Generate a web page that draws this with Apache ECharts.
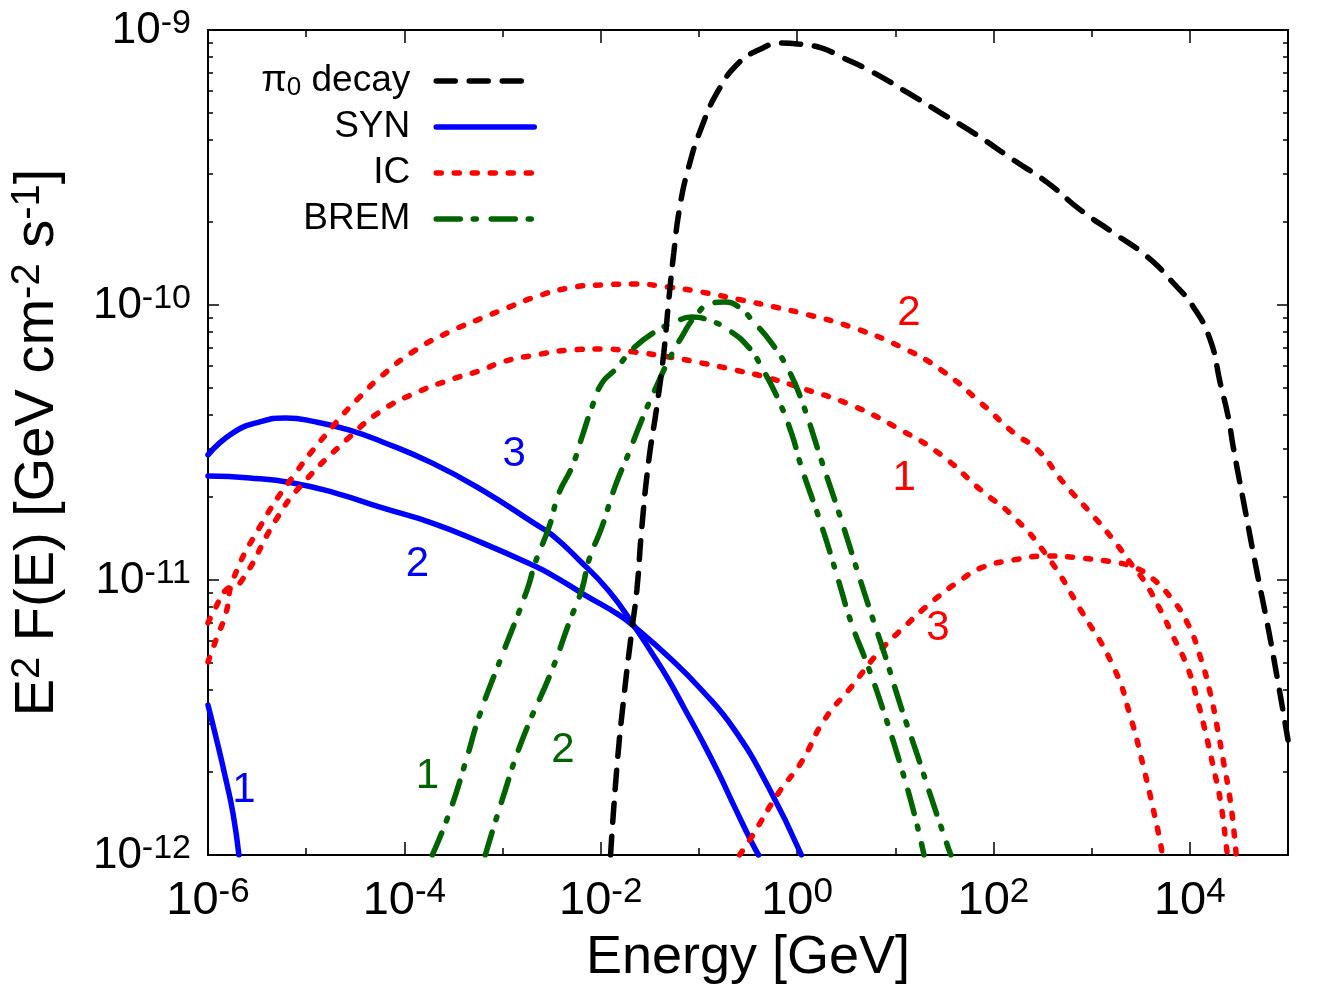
<!DOCTYPE html>
<html>
<head>
<meta charset="utf-8">
<script src="https://cdn.jsdelivr.net/npm/echarts@6/dist/echarts.min.js"></script>
<style>
  html, body { margin: 0; background: #fff; }
  #chart { width: 1334px; height: 1000px; }
</style>
</head>
<body>
<div id="chart"></div>
<script>
// every curve is a list of [log10 E (GeV), log10 E^2 F(E) (GeV cm^-2 s^-1)]
const pi0 = [[-1.9,-12],[-1.835,-11.68],[-1.764,-11.425],[-1.683,-11.182],[-1.632,-11.036],[-1.581,-10.807],
  [-1.51,-10.564],[-1.429,-10.371],[-1.358,-10.175],[-1.307,-9.982],[-1.256,-9.811],[-1.195,-9.644],[-1.104,-9.498],
  [-0.972,-9.353],[-0.799,-9.218],[-0.596,-9.12],[-0.393,-9.073],[-0.159,-9.047],[0.013,-9.051],[0.247,-9.065],
  [0.45,-9.098],[0.785,-9.156],[1.13,-9.229],[1.466,-9.302],[1.801,-9.375],[2.207,-9.473],[2.553,-9.556],
  [2.888,-9.655],[3.223,-9.738],[3.568,-9.825],[3.832,-9.92],[4.036,-10.007],[4.208,-10.127],[4.31,-10.284],
  [4.391,-10.407],[4.442,-10.516],[4.544,-10.709],[4.686,-10.975],[4.788,-11.156],[4.889,-11.353],[5.0,-11.582]];

const syn1 = [[-6,-11.455],[-5.919,-11.571],[-5.817,-11.727],[-5.746,-11.847],[-5.685,-12]];
const syn2 = [[-6,-10.622],[-5.573,-10.629],[-5.137,-10.647],[-4.7,-10.684],[-4.222,-10.738],[-3.715,-10.793],
  [-3.207,-10.865],[-2.699,-10.945],[-2.496,-10.982],[-2.16,-11.055],[-1.815,-11.127],[-1.653,-11.171],
  [-1.307,-11.28],[-0.972,-11.4],[-0.637,-11.545],[-0.292,-11.753],[0.044,-12]];
const syn3 = [[-6,-10.545],[-5.746,-10.465],[-5.472,-10.425],[-5.208,-10.411],[-4.903,-10.425],[-4.558,-10.455],
  [-4.222,-10.498],[-3.715,-10.575],[-3.207,-10.673],[-2.668,-10.796],[-2.496,-10.836],[-2.221,-10.927],
  [-1.917,-11.04],[-1.653,-11.171],[-1.48,-11.265],[-1.307,-11.364],[-1.145,-11.469],[-0.972,-11.582],
  [-0.8,-11.702],[-0.637,-11.825],[-0.464,-11.953],[-0.393,-12]];

const ic1 = [[-6,-11.156],[-5.919,-11.098],[-5.817,-11.036],[-5.675,-11.011],[-5.309,-10.782],[-5.066,-10.662],
  [-4.558,-10.48],[-4.222,-10.382],[-3.887,-10.32],[-3.542,-10.273],[-3.207,-10.236],[-3.004,-10.207],
  [-2.668,-10.182],[-2.323,-10.164],[-1.988,-10.16],[-1.653,-10.171],[-1.307,-10.189],[-0.972,-10.211],
  [-0.637,-10.236],[-0.292,-10.265],[0.044,-10.302],[0.552,-10.364],[1.059,-10.455],[1.466,-10.545],
  [1.872,-10.673],[2.207,-10.771],[2.553,-10.916],[2.888,-11.109],[3.223,-11.316],[3.396,-11.498],
  [3.528,-11.68],[3.629,-11.836],[3.7,-11.956],[3.72,-12]];
const ic2 = [[-6,-11.298],[-5.919,-11.218],[-5.817,-11.12],[-5.746,-11.0],[-5.472,-10.807],[-5.137,-10.625],
  [-4.7,-10.429],[-4.456,-10.335],[-4.222,-10.255],[-3.887,-10.164],[-3.542,-10.098],[-3.207,-10.047],
  [-3.004,-10.018],[-2.668,-9.971],[-2.323,-9.938],[-1.988,-9.927],[-1.653,-9.924],[-1.307,-9.935],
  [-0.972,-9.953],[-0.566,-9.982],[-0.231,-10.007],[0.115,-10.036],[0.552,-10.08],[1.059,-10.153],
  [1.466,-10.236],[1.872,-10.356],[2.207,-10.465],[2.451,-10.527],[2.715,-10.647],[2.989,-10.756],
  [3.223,-10.855],[3.426,-10.953],[3.528,-11.0],[3.7,-11.109],[3.832,-11.207],[3.975,-11.316],
  [4.076,-11.436],[4.178,-11.582],[4.239,-11.68],[4.31,-11.8],[4.381,-11.993],[4.383,-12]];
const ic3 = [[-0.586,-12],[-0.464,-11.935],[-0.19,-11.775],[0.044,-11.662],[0.277,-11.509],[0.552,-11.389],
  [0.826,-11.265],[1.09,-11.171],[1.395,-11.073],[1.669,-11.0],[1.872,-10.956],[2.207,-10.927],
  [2.553,-10.913],[2.888,-10.92],[3.223,-10.935],[3.426,-10.953],[3.599,-10.989],[3.802,-11.062],
  [3.975,-11.156],[4.107,-11.28],[4.208,-11.411],[4.279,-11.535],[4.34,-11.655],[4.411,-11.8],
  [4.462,-11.956],[4.472,-12]];

const brem1 = [[-3.715,-12],[-3.542,-11.847],[-3.379,-11.665],[-3.227,-11.484],[-3.004,-11.273],[-2.75,-11.036],
  [-2.668,-10.938],[-2.526,-10.807],[-2.425,-10.684],[-2.293,-10.589],[-2.191,-10.48],[-2.089,-10.371],
  [-1.988,-10.284],[-1.856,-10.236],[-1.653,-10.153],[-1.449,-10.098],[-1.246,-10.062],[-1.074,-10.044],
  [-0.901,-10.055],[-0.698,-10.091],[-0.495,-10.153],[-0.363,-10.225],[-0.19,-10.345],[-0.058,-10.465],
  [0.044,-10.589],[0.247,-10.8],[0.42,-11.0],[0.552,-11.156],[0.724,-11.316],[0.887,-11.484],
  [1.059,-11.68],[1.191,-11.847],[1.293,-12]];
const brem2 = [[-3.176,-12],[-3.004,-11.8],[-2.8,-11.582],[-2.496,-11.327],[-2.323,-11.156],[-2.191,-11.033],
  [-2.12,-10.927],[-1.988,-10.807],[-1.856,-10.662],[-1.714,-10.538],[-1.582,-10.418],[-1.449,-10.309],
  [-1.307,-10.2],[-1.175,-10.116],[-1.043,-10.044],[-0.87,-9.993],[-0.738,-9.989],[-0.596,-10.007],
  [-0.434,-10.065],[-0.261,-10.138],[-0.088,-10.236],[0.044,-10.345],[0.247,-10.564],[0.45,-10.782],
  [0.653,-11.011],[0.785,-11.156],[0.887,-11.265],[1.059,-11.462],[1.232,-11.644],[1.364,-11.789],
  [1.537,-11.971],[1.567,-12]];

// curve numbers: [log10 E, log10 F, text, colour]
const curveLabels = [
  [1.14, -10.03, '2', '#ff0000'], [1.09, -10.63, '1', '#ff0000'], [1.435, -11.175, '3', '#ff0000'],
  [-2.882, -10.545, '3', '#0000ff'], [-3.867, -10.945, '2', '#0000ff'], [-5.634, -11.764, '1', '#0000ff'],
  [-3.765, -11.713, '1', '#006400'], [-2.384, -11.618, '2', '#006400']
];

const xMajor = [-6, -4, -2, 0, 2, 4];
const xMinor = [-5, -3, -1, 1, 3, 5];
const yMajor = [-12, -11, -10, -9];

const FONT = '"Liberation Sans", Arial, Helvetica, sans-serif';
const pow = v => Math.pow(10, v);
const toXY = pts => pts.map(p => [pow(p[0]), pow(p[1])]);
const yMinor = [];
for (let n = -12; n < -9; n++) for (let k = 2; k <= 9; k++) yMinor.push(Math.log10(k) + n);

const powLabel = v => '{b|10}{s|' + Math.round(Math.log10(v)) + '}';
const richOf = (big, small, lh) => ({
  b: { fontFamily: FONT, fontSize: big, color: '#000', lineHeight: lh, verticalAlign: 'bottom' },
  s: { fontFamily: FONT, fontSize: small, color: '#000', lineHeight: lh, verticalAlign: 'top' }
});
const blackLine = { color: '#000', width: 2 };

function axisOf(kind, pos, ticks, len, withLine, withLabel) {
  const ax = {
    type: 'log', logBase: 10, position: pos,
    axisLine: { show: withLine, lineStyle: blackLine },
    axisTick: { show: true, inside: true, length: len, customValues: ticks.map(pow), lineStyle: { color: '#000', width: 1.5 } },
    axisLabel: { show: false },
    splitLine: { show: false }, minorTick: { show: false }
  };
  if (kind === 'x') { ax.min = 1e-6; ax.max = 1e5; } else { ax.min = 1e-12; ax.max = 1e-9; }
  if (withLabel) {
    ax.axisLabel = kind === 'x'
      ? { show: true, margin: 20, customValues: ticks.map(pow), formatter: powLabel, rich: richOf(47, 35, 50) }
      : { show: true, margin: 17, customValues: ticks.map(pow), formatter: powLabel, rich: richOf(44, 34, 46) };
  }
  return ax;
}

const xAxes = [
  axisOf('x', 'bottom', xMajor, 13, true, true),
  axisOf('x', 'bottom', xMinor, 7, false, false),
  axisOf('x', 'top', xMajor, 13, true, false),
  axisOf('x', 'top', xMinor, 7, false, false)
];
Object.assign(xAxes[0], {
  name: 'Energy [GeV]', nameLocation: 'middle', nameGap: 76,
  nameTextStyle: { fontFamily: FONT, fontSize: 54, color: '#000' }
});
const yAxes = [
  axisOf('y', 'left', yMajor, 11, true, true),
  axisOf('y', 'left', yMinor, 5, false, false),
  axisOf('y', 'right', yMajor, 11, true, false),
  axisOf('y', 'right', yMinor, 5, false, false)
];
Object.assign(yAxes[0], {
  name: 'E{s|2} F(E) [GeV cm{s|-2} s{s|-1}]', nameLocation: 'middle', nameRotate: 90, nameGap: 140,
  nameTextStyle: {
    fontFamily: FONT, fontSize: 56, color: '#000',
    rich: {
      s: { fontFamily: FONT, fontSize: 40, color: '#000', verticalAlign: 'top', lineHeight: 60 }
    }
  }
});

const RED = '#ff0000', BLUE = '#0000ff', GREEN = '#006400';
const styles = {
  'π0 decay': { color: '#000', type: [19, 14] },
  'SYN': { color: BLUE, type: 'solid' },
  'IC': { color: RED, type: [5, 13] },
  'BREM': { color: GREEN, type: [24, 13, 3, 15] }
};
function curve(name, pts) {
  const st = styles[name];
  return {
    type: 'line', name: name, data: toXY(pts), symbol: 'none', smooth: 0.5,
    xAxisIndex: 0, yAxisIndex: 0, silent: true,
    itemStyle: { color: st.color },
    lineStyle: { color: st.color, width: 5.5, type: st.type, cap: 'round' }
  };
}

const series = [
  curve('SYN', syn1), curve('SYN', syn2), curve('SYN', syn3),
  curve('IC', ic1), curve('IC', ic2), curve('IC', ic3),
  curve('BREM', brem1), curve('BREM', brem2),
  curve('π0 decay', pi0)
];

const chart = echarts.init(document.getElementById('chart'));
chart.setOption({
  animation: false,
  backgroundColor: '#fff',
  grid: { left: 205, right: 46, top: 30, bottom: 145, containLabel: false },
  legend: {
    data: ['π0 decay', 'SYN', 'IC', 'BREM'],
    orient: 'vertical', align: 'right', right: 797, top: 61, padding: 0,
    itemWidth: 98, itemHeight: 14, itemGap: 6,
    itemStyle: { opacity: 0 },
    lineStyle: { width: 5.5 },
    formatter: n => n === 'π0 decay' ? 'π{sub|0} decay' : n,
    textStyle: {
      fontFamily: FONT, fontSize: 37, color: '#000', lineHeight: 40, padding: [0, 21, 0, 0],
      rich: { sub: { fontFamily: FONT, fontSize: 26, color: '#000', verticalAlign: 'bottom', lineHeight: 40 } }
    }
  },
  xAxis: xAxes,
  yAxis: yAxes,
  series: series
});

// curve numbers placed at data coordinates through the grid's scales
chart.setOption({
  graphic: curveLabels.map(l => {
    const p = chart.convertToPixel({ xAxisIndex: 0, yAxisIndex: 0 }, [pow(l[0]), pow(l[1])]);
    return {
      type: 'text', x: p[0], y: p[1], silent: true,
      style: { text: l[2], fill: l[3], font: '42px ' + FONT, align: 'center', verticalAlign: 'middle' }
    };
  })
});
</script>
</body>
</html>
